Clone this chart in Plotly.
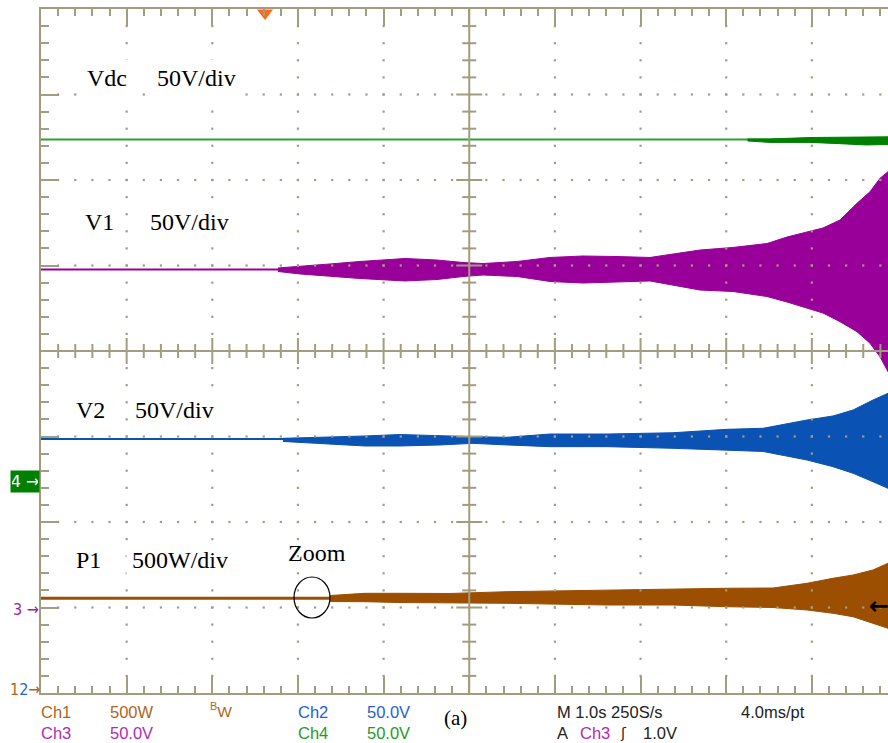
import plotly.graph_objects as go

# ---------------- data (time in s at 1.0 s/div, amplitude in screen divisions) ----------------
T_END = 9.889

vdc_level = 2.474
vdc_t = [8.25, 8.51, 8.98, 9.33, 9.63, 9.889]
vdc_hi = [2.480, 2.480, 2.497, 2.500, 2.505, 2.505]
vdc_lo = [2.456, 2.440, 2.440, 2.425, 2.410, 2.415]

v1_level = 0.953
v1_t = [2.767, 3.024, 3.374, 3.724, 4.250, 4.624, 4.927, 5.161, 5.558, 5.943, 6.328, 6.725,
        7.110, 7.694, 8.079, 8.476, 8.710, 9.130, 9.329, 9.527, 9.679, 9.796, 9.889]
v1_hi = [0.971, 0.988, 1.018, 1.047, 1.082, 1.064, 1.035, 1.023, 1.047, 1.094, 1.111, 1.105,
         1.094, 1.181, 1.211, 1.257, 1.333, 1.439, 1.532, 1.727, 1.863, 2.020, 2.097]
v1_lo = [0.930, 0.901, 0.871, 0.848, 0.819, 0.836, 0.871, 0.889, 0.871, 0.813, 0.795, 0.807,
         0.819, 0.713, 0.696, 0.637, 0.573, 0.444, 0.343, 0.226, 0.090, -0.067, -0.242]

v2_level = -1.029
v2_t = [2.826, 3.374, 3.783, 4.191, 4.659, 5.044, 5.441, 5.943, 6.608, 7.379, 8.009, 8.430,
        8.943, 9.247, 9.481, 9.714, 9.889]
v2_hi = [-1.021, -1.009, -0.994, -0.977, -0.994, -1.002, -1.009, -0.971, -0.971, -0.956, -0.916,
         -0.904, -0.807, -0.760, -0.690, -0.573, -0.495]
v2_lo = [-1.058, -1.091, -1.111, -1.111, -1.099, -1.080, -1.099, -1.119, -1.119, -1.138, -1.158,
         -1.175, -1.275, -1.353, -1.430, -1.529, -1.606]

p1_level = -2.892
p1_t = [3.374, 3.783, 4.191, 4.775, 5.441, 6.608, 7.379, 8.009, 8.546, 8.943, 9.247, 9.481,
        9.714, 9.889]
p1_hi = [-2.860, -2.834, -2.834, -2.836, -2.815, -2.795, -2.787, -2.775, -2.772, -2.717, -2.658,
         -2.620, -2.561, -2.483]
p1_lo = [-2.930, -2.932, -2.942, -2.947, -2.951, -2.971, -2.971, -2.991, -3.000, -3.029, -3.068,
         -3.108, -3.185, -3.243]

labels = ["Vdc", "V1", "V2", "P1"]
scales = ["50V/div", "50V/div", "50V/div", "500W/div"]

# ---------------- layout constants (pixels) ----------------
W, H = 888, 743
L, T, B = 41, 9, 50
PW, PH = W - L, H - T - B
DX = 85.65          # px per horizontal division
DY = PH / 8.0       # px per vertical division
Y0 = T + 4 * DY     # pixel row of y = 0

GRID = "#a39d7f"
C_GREEN_L, C_GREEN = "#2f9f2f", "#007f00"
C_PURPLE = "#990099"
C_BLUE = "#0a52b4"
C_BROWN = "#9c4f00"


def px2x(px):
    return (px - L) / DX


def py2y(py):
    return (Y0 - py) / DY


def ppx(px):
    return (px - L) / PW


def ppy(py):
    return (H - B - py) / PH


fig = go.Figure()


def add_signal(level, t, hi, lo, line_color, band_color, lw):
    fig.add_trace(go.Scatter(x=[0, T_END], y=[level, level], mode="lines",
                             line=dict(color=line_color, width=lw), hoverinfo="skip"))
    fig.add_trace(go.Scatter(x=list(t) + list(t)[::-1], y=list(hi) + list(lo)[::-1],
                             mode="lines", fill="toself", fillcolor=band_color,
                             line=dict(color=band_color, width=1), hoverinfo="skip"))


add_signal(vdc_level, vdc_t, vdc_hi, vdc_lo, C_GREEN_L, C_GREEN, 2)
add_signal(v1_level, v1_t, v1_hi, v1_lo, C_PURPLE, C_PURPLE, 2)
add_signal(v2_level, v2_t, v2_hi, v2_lo, C_BLUE, C_BLUE, 2.2)
add_signal(p1_level, p1_t, p1_hi, p1_lo, C_BROWN, C_BROWN, 3)

# ---------------- graticule: dotted division lines ----------------
dx, dy = [], []
for i in range(1, 10):
    if i == 5:
        continue
    for k in range(1, 40):
        dx.append(i)
        dy.append(-4 + k * 0.2)
for j in range(-3, 4):
    if j == 0:
        continue
    for k in range(1, 50):
        dx.append(k * 0.2)
        dy.append(j)
fig.add_trace(go.Scatter(x=dx, y=dy, mode="markers",
                         marker=dict(symbol="square", size=2.2, color=GRID, line=dict(width=0)),
                         hoverinfo="skip"))

# center cross ticks
tx, ty = [], []
hx_min, hx_maj = 7 / DX, 13 / DX
hy_min, hy_maj = 7 / DY, 13 / DY
for k in range(1, 50):
    xv = k * 0.2
    h = hy_maj if k % 5 == 0 else hy_min
    tx += [xv, xv, None]
    ty += [-h, h, None]
for k in range(-19, 20):
    if k == 0:
        continue
    yv = k * 0.2
    h = hx_maj if k % 5 == 0 else hx_min
    tx += [5 - h, 5 + h, None]
    ty += [yv, yv, None]
fig.add_trace(go.Scatter(x=tx, y=ty, mode="lines", line=dict(color=GRID, width=2),
                         hoverinfo="skip", connectgaps=False))

shapes = [
    dict(type="line", xref="x", yref="y", x0=5, x1=5, y0=-4, y1=4, line=dict(color=GRID, width=2)),
    dict(type="line", xref="x", yref="y", x0=0, x1=T_END, y0=0, y1=0, line=dict(color=GRID, width=2)),
    dict(type="circle", xref="x", yref="y", x0=px2x(294), x1=px2x(330), y0=py2y(577), y1=py2y(618),
         line=dict(color="black", width=1.2)),
]

# trigger position marker (orange triangle at top)
fig.add_trace(go.Scatter(x=[px2x(265)], y=[py2y(13)], mode="markers", cliponaxis=False,
                         marker=dict(symbol="triangle-down", size=14, color="#ff6a1a"),
                         hoverinfo="skip"))

ann = []
SERIF = "Liberation Serif, Times New Roman, serif"
SANS = "Liberation Sans, Arial, sans-serif"


def lab(px, py, text, color="black", size=24, family=SERIF, xanchor="left", bg=None, pad=1):
    off = (pad + 1) if xanchor == "left" else -(pad + 1)
    d = dict(x=ppx(px - off), y=ppy(py), xref="paper", yref="paper", text=text, showarrow=False,
             xanchor=xanchor, yanchor="middle", font=dict(color=color, size=size, family=family),
             borderpad=pad)
    if bg:
        d["bgcolor"] = bg
    ann.append(d)


# channel labels in the graticule
name_pos = [(87, 78), (85, 222), (76, 410), (76, 560)]
scale_pos = [(157, 78), (150, 222), (135, 410), (132, 560)]
for n, s, (nx, ny), (sx, sy) in zip(labels, scales, name_pos, scale_pos):
    lab(nx, ny, n, bg="white", pad=5)
    lab(sx, sy, s, bg="white", pad=5)
lab(288, 553, "Zoom")

# status bar
r1, r2 = 712, 733
SB = 16.5
C_CH1, C_CH2, C_CH3, C_CH4 = "#b0661e", "#2462d0", "#b02cb0", "#1f9a2a"
lab(41, r1, "Ch1", C_CH1, SB, SANS)
lab(110, r1, "500W", C_CH1, SB, SANS)
lab(210, r1 - 2, "<sup>B</sup>W", C_CH1, SB - 1, SANS)
lab(298, r1, "Ch2", C_CH2, SB, SANS)
lab(367, r1, "50.0V", C_CH2, SB, SANS)
lab(444, r1 + 6, "(a)", "black", 21, SERIF)
lab(557, r1, "M 1.0s 250S/s", "#222222", SB, SANS)
lab(741, r1, "4.0ms/pt", "#222222", SB, SANS)
lab(41, r2, "Ch3", C_CH3, SB, SANS)
lab(110, r2, "50.0V", C_CH3, SB, SANS)
lab(298, r2, "Ch4", C_CH4, SB, SANS)
lab(367, r2, "50.0V", C_CH4, SB, SANS)
lab(557, r2, "A", "#222222", SB, SANS)
lab(580, r2, "Ch3", C_CH3, SB, SANS)
lab(620, r2, "ʃ", "#222222", SB - 2, "DejaVu Sans")
lab(643, r2, "1.0V", "#222222", SB, SANS)

# ground markers on the left edge
ann.append(dict(x=ppx(40), y=ppy(481), xref="paper", yref="paper", text="4 →", showarrow=False,
                xanchor="right", yanchor="middle", bgcolor="#008000", width=26, height=19,
                borderpad=1, font=dict(color="white", size=16, family="DejaVu Sans")))
lab(39, 609, "3 →", "#a020a0", 16, "DejaVu Sans Condensed", xanchor="right")
lab(40, 689, "<span style='color:#b0661e'>1</span><span style='color:#2462d0'>2</span>"
              "<span style='color:#b0661e'>→</span>", "#2462d0", 16, "DejaVu Sans Condensed",
    xanchor="right", pad=0)

# trigger level marker on the right edge
lab(869, 606, "<b>←</b>", "black", 24, "DejaVu Sans", pad=0)

axis_common = dict(showgrid=False, zeroline=False, showline=True, linecolor=GRID, linewidth=2,
                   ticks="inside", tickcolor=GRID, tickwidth=2, showticklabels=False,
                   tick0=0, dtick=1, fixedrange=True)
fig.update_layout(
    width=W, height=H, autosize=False,
    margin=dict(l=L, r=0, t=T, b=B, pad=0),
    paper_bgcolor="white", plot_bgcolor="white",
    showlegend=False,
    xaxis=dict(range=[0, T_END], mirror="ticks", ticklen=17,
               minor=dict(ticks="inside", ticklen=7, tickwidth=2, tickcolor=GRID, dtick=0.2, tick0=0),
               **axis_common),
    yaxis=dict(range=[-4, 4], mirror=False, ticklen=18,
               minor=dict(ticks="inside", ticklen=8, tickwidth=2, tickcolor=GRID, dtick=0.2, tick0=0),
               **axis_common),
    shapes=shapes,
    annotations=ann,
)

fig.write_html("out.html", config={"displayModeBar": False},
               post_script="document.body.style.margin='0';document.body.style.overflow='hidden';")
